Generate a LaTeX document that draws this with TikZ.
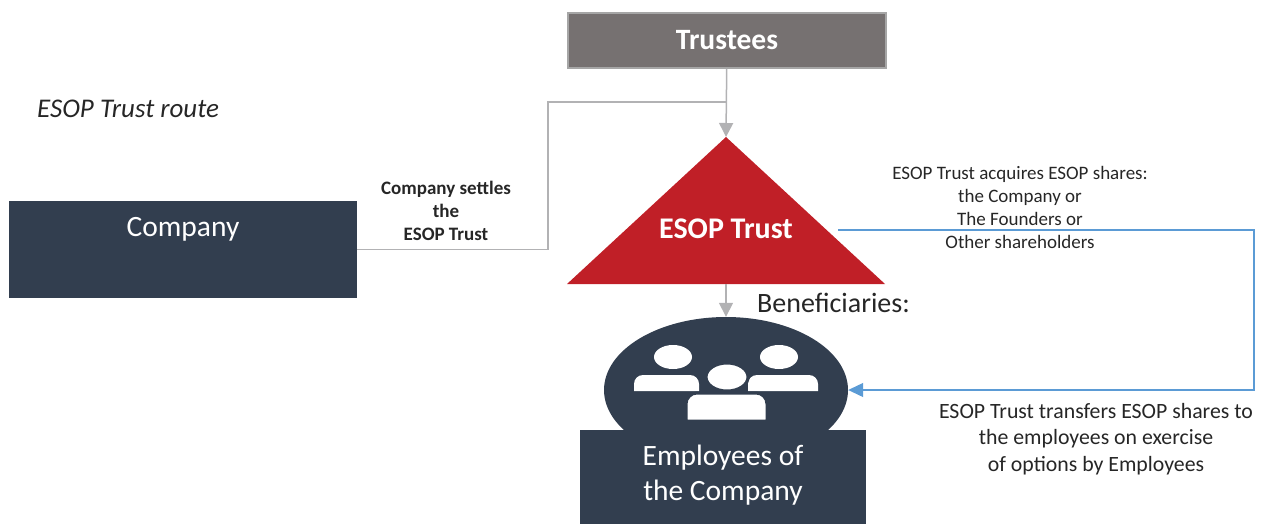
\documentclass[tikz,border=0pt]{standalone}
\usepackage{fontspec}
\setmainfont{Carlito}
\usepackage{xcolor}
\definecolor{grisTrust}{RGB}{118, 113, 113}
\definecolor{grisBorde}{RGB}{166, 166, 166}
\definecolor{grisLinea}{RGB}{178, 178, 180}
\definecolor{azulOscuro}{RGB}{50, 62, 79}
\definecolor{rojo}{RGB}{192, 31, 39}
\definecolor{azul}{RGB}{91, 155, 213}
\definecolor{texto}{RGB}{38, 38, 38}
\usepackage{tikz}
\usetikzlibrary{arrows.meta,shapes.geometric,calc,positioning}
\tikzstyle{box}   =[rectangle, fill=azulOscuro, inner sep=0pt,
                    outer sep=0pt]
\tikzstyle{boxtext}=[text=white, align=center]
\tikzstyle{note}  =[text=texto, align=center, inner sep=0pt]
\tikzstyle{grayedge}=[draw=grisLinea, line width=1.5pt,
                    -{Triangle[width=14pt,length=14pt]}]
\tikzstyle{blueedge}=[draw=azul, line width=1.2pt,
                    -{Triangle[width=14pt,length=15pt]}]

\begin{document}
\begin{tikzpicture}[x=1pt,y=-1pt]
    \useasboundingbox (0,0) rectangle (1261,523);

        \begin{scope}[]
            \draw (727,40.5) node (trustees) [rectangle, fill=grisTrust, draw=grisBorde,
                line width=1.5pt, minimum width=318pt, minimum height=55pt,
                text=white, font=\fontsize{29.5}{32}\selectfont\bfseries] {Trustees};
            \draw (37,109) node (route) [note, anchor=west,
                font=\fontsize{27}{30}\selectfont\itshape] {ESOP Trust route};
            \draw (183,249.5) node (company) [box, minimum width=348pt, minimum height=97pt] {};
            \draw (183,229) node (companytext) [boxtext,
                font=\fontsize{29.5}{32}\selectfont] {Company};
            \draw (446,211) node (settles) [note,
                font=\fontsize{19}{23}\selectfont\bfseries] {Company settles\\the\\ESOP Trust};
        \end{scope}

        % ESOP Trust triangle
        \begin{scope}[]
            \coordinate (apex) at (726,137);
            \coordinate (bl) at (567,284);
            \coordinate (br) at (885,284);
            \coordinate (base) at (726,284);
            \fill [rojo] (apex) -- (bl) -- (br) -- cycle;
            \draw (726,229) node (esop) [text=white,
                font=\fontsize{30}{32}\selectfont\bfseries] {ESOP Trust};
            \draw (757,303) node (benef) [note, anchor=west,
                font=\fontsize{28}{30}\selectfont] {Beneficiaries:};
        \end{scope}

        % employees
        \begin{scope}[]
            \draw (726,390) node (staff) [ellipse, fill=azulOscuro, inner sep=0pt,
                minimum width=244pt, minimum height=146pt] {};
            \fill [white] (673,357) ellipse (19 and 12);
            \fill [white] (779,357) ellipse (19 and 12);
            \fill [white] (634,391) [rounded corners=9] -- (634,375) -- (699,375)
                [sharp corners] -- (699,391) -- cycle;
            \fill [white] (748,391) [rounded corners=9] -- (748,375) -- (818,375)
                [sharp corners] -- (818,391) -- cycle;
            \filldraw [white, draw=azulOscuro, line width=3pt] (727,377) ellipse (21 and 14);
            \filldraw [white, draw=azulOscuro, line width=3pt] (686,421) [rounded corners=11]
                -- (686,393) -- (767,393) [sharp corners] -- (767,421) -- cycle;
            \draw (723,477) node (employees) [box, minimum width=286pt, minimum height=95pt] {};
            \draw (723,475) node (employeestext) [boxtext,
                font=\fontsize{29.5}{35}\selectfont] {Employees of\\the Company};
        \end{scope}

        \begin{scope}[]
            \draw (1020,207) node (acquires) [note,
                font=\fontsize{19}{23}\selectfont] {ESOP Trust acquires ESOP shares:\\the Company or\\The Founders or\\Other shareholders};
            \draw (1096,439) node (transfers) [note,
                font=\fontsize{21.8}{26.5}\selectfont] {ESOP Trust transfers ESOP shares to\\the employees on exercise\\of options by Employees};
        \end{scope}

        \coordinate (settle) at (548,102);
        \coordinate (acq) at (838,230);
        \coordinate (turn) at (1254,230);

        \draw [draw=grisLinea, line width=1.5pt] (company.east) -| (settle) -- (settle -| apex);
        \foreach \i/\j in {trustees/apex,base/staff}
            \draw [grayedge] (\i) to (\j);
        \draw [blueedge] (acq) -- (turn) |- (staff.east);

\end{tikzpicture}
\end{document}
